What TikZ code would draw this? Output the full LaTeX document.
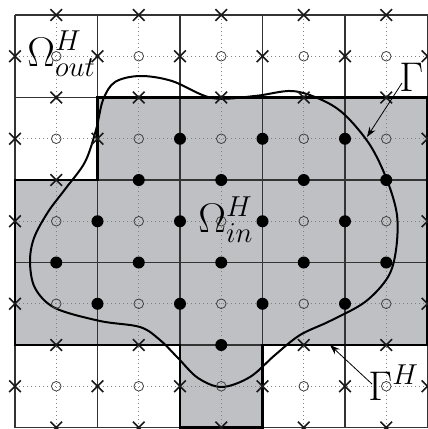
\documentclass[tikz,border=0pt]{standalone}
\DeclareMathSizes{20.74}{20.74}{14.4}{10}
\usetikzlibrary{shapes.misc,arrows.meta}
\definecolor{regfill}{RGB}{191,192,196}
\begin{document}
\begin{tikzpicture}[x=0.5pt,y=-0.5pt,
  gridline/.style={black!80,line width=0.6pt},
  dotline/.style={black!50,line width=0.6pt,dash pattern=on 0.5pt off 1.5pt},
  bound/.style={black,line width=1.4pt},
  curveline/.style={black,line width=1pt},
  xmark/.style={cross out,draw=black!90,line width=0.8pt,minimum size=5pt,inner sep=0pt},
  filled/.style={circle,fill=black,minimum size=6pt,inner sep=0pt},
  open/.style={circle,draw=black!75,line width=0.4pt,minimum size=4.8pt,inner sep=0pt},
  lab/.style={inner sep=0pt,anchor=base west,font=\fontsize{20.74}{24}\selectfont},
  pointer/.style={-{Stealth[length=5pt,width=3.5pt]},line width=0.4pt}]
\clip (0,0) rectangle (428,429);
\foreach \i in {0,...,10}
  \foreach \j in {0,...,10}
    \coordinate (p\i-\j) at ({15+41.25*\i},{15+41.25*\j});
% region
\fill[regfill] (p2-2) -- (p10-2) -- (p10-8) -- (p6-8) -- (p6-10) -- (p4-10) -- (p4-8) -- (p0-8) -- (p0-4) -- (p2-4) -- cycle;
% dotted lines
\foreach \i in {1,3,...,9} {
  \draw[dotline] (p\i-0) -- (p\i-10);
  \draw[dotline] (p0-\i) -- (p10-\i);
}
% grid lines
\foreach \i in {0,2,...,10} {
  \draw[gridline] (p\i-0) -- (p\i-10);
  \draw[gridline] (p0-\i) -- (p10-\i);
}
% boundary Gamma^H
\draw[bound] (p2-2) -- (p10-2) -- (p10-8) -- (p6-8) -- (p6-10) -- (p4-10) -- (p4-8) -- (p0-8) -- (p0-4) -- (p2-4) -- cycle;
% curve Gamma
\draw[curveline] plot[smooth cycle,tension=0.55] coordinates {
 (140,76) (172,81) (212,98) (255,96) (292,91) (322,100) (345,115) (370,145)
 (387,180) (397,215) (396,250) (388,277) (365,302) (330,321) (300,335) (275,355)
 (250,377) (222,387) (198,378) (178,358) (160,340) (140,327) (100,321) (55,308)
 (35,288) (30,262) (34,238) (48,212) (66,188) (85,162) (96,130) (103,100) (115,82)};
% markers
\foreach \i in {0,...,10}
  \foreach \j in {0,...,10} {
    \pgfmathtruncatemacro\isodd{mod(\i+\j,2)}
    \pgfmathtruncatemacro\iodd{mod(\i,2)}
    \pgfmathtruncatemacro\isin{((\j==3)&&(\i>=4)&&(\i<=8))||((\j==4)&&(\i>=3)&&(\i<=9))||((\j==5)&&(\i>=2)&&(\i<=8))||((\j==6)&&(\i>=1)&&(\i<=9))||((\j==7)&&(\i>=2)&&(\i<=8))||((\j==8)&&(\i==5))}
    \ifnum\isodd=1
      \ifnum\isin=1
        \node[filled] (m\i-\j) at (p\i-\j) {};
      \else
        \node[xmark] (m\i-\j) at (p\i-\j) {};
      \fi
    \else
      \ifnum\iodd=1
        \node[open] (m\i-\j) at (p\i-\j) {};
      \fi
    \fi
  }
% labels
\node[lab] (wout) at (27,66) {$\Omega^H_{out}$};
\node[lab] (win) at (198,232) {$\Omega^H_{in}$};
\node[lab] (gam) at (399,91) {$\Gamma$};
\node[lab] (gamh) at (368,400) {$\Gamma^H$};
\coordinate (gtip) at (367,137);
\coordinate (htip) at (330,345);
\draw[pointer] ([xshift=1.5pt,yshift=4pt]gam.base west) -- (gtip);
\draw[pointer] ([xshift=2pt,yshift=8pt]gamh.base west) -- (htip);
\end{tikzpicture}
\end{document}
